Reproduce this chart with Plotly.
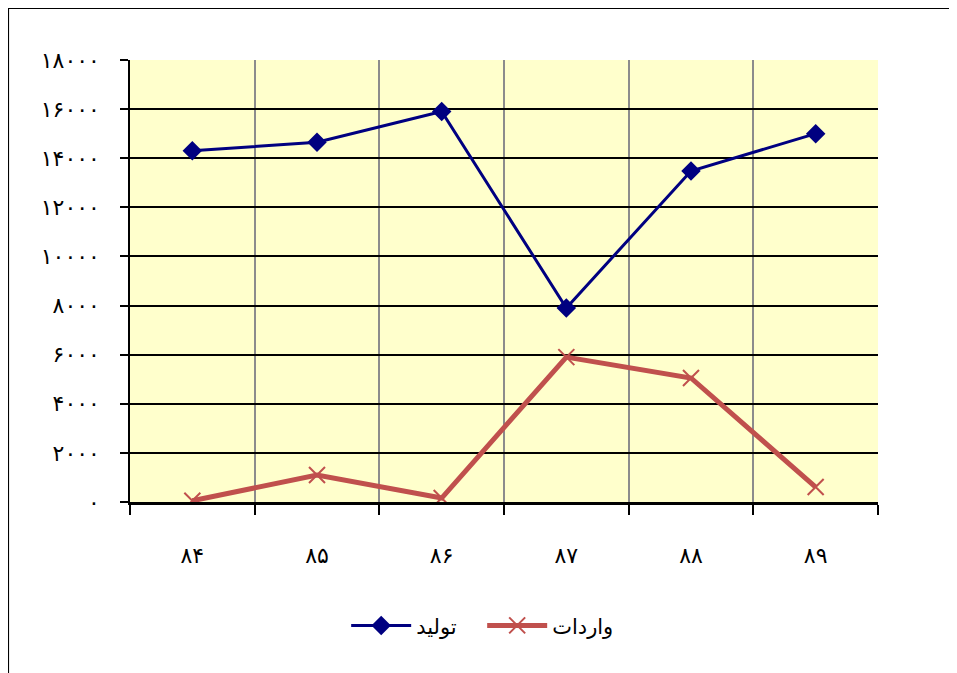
import plotly.graph_objects as go

categories = ["۸۴", "۸۵", "۸۶", "۸۷", "۸۸", "۸۹"]
production = [14300, 14650, 15900, 7900, 13480, 15000]
imports = [50, 1100, 160, 5900, 5050, 610]
y_tick_values = [0, 2000, 4000, 6000, 8000, 10000, 12000, 14000, 16000, 18000]
y_tick_labels = ["۰", "۲۰۰۰", "۴۰۰۰", "۶۰۰۰", "۸۰۰۰", "۱۰۰۰۰", "۱۲۰۰۰", "۱۴۰۰۰", "۱۶۰۰۰", "۱۸۰۰۰"]
series_names = ["تولید", "واردات"]

fig = go.Figure()
fig.add_trace(go.Scatter(
    x=categories, y=production, name=series_names[0], mode="lines+markers",
    line=dict(color="#000080", width=3),
    marker=dict(symbol="diamond", size=15, color="#000080"),
))
fig.add_trace(go.Scatter(
    x=categories, y=imports, name=series_names[1], mode="lines+markers",
    line=dict(color="#C0504D", width=5),
    marker=dict(symbol="x-thin-open", size=16, line=dict(color="#C0504D", width=2)),
))

fig.update_layout(
    width=949, height=665,
    margin=dict(l=122, r=79, t=52, b=171),
    paper_bgcolor="white", plot_bgcolor="#FFFFCC",
    font=dict(family="DejaVu Serif, DejaVu Sans, serif", color="black", size=15),
    showlegend=True,
    legend=dict(orientation="h", x=0.289, xanchor="left", y=-0.28, yanchor="middle",
                font=dict(size=21), itemwidth=60, entrywidth=61),
    xaxis=dict(
        type="category", range=[-0.5, 5.5], tickson="boundaries",
        showgrid=True, gridcolor="#8C8C8C", gridwidth=1.5,
        ticks="outside", ticklen=10, tickcolor="black", tickwidth=1.5,
        showline=True, linecolor="black", linewidth=3,
        ticklabelstandoff=32, tickfont=dict(size=22),
    ),
    yaxis=dict(
        range=[0, 18000], tickvals=y_tick_values, ticktext=y_tick_labels,
        showgrid=True, gridcolor="black", gridwidth=1.5,
        ticks="outside", ticklen=8, tickcolor="black", tickwidth=1.5,
        showline=True, linecolor="black", linewidth=1.5,
        ticklabelstandoff=16, zeroline=False, tickfont=dict(size=22),
    ),
    shapes=[dict(type="rect", xref="paper", yref="paper",
                 x0=-0.163, x1=1.3, y0=-0.6, y1=1.1176,
                 line=dict(color="black", width=2), layer="below")],
)

fig.write_html("out.html")
